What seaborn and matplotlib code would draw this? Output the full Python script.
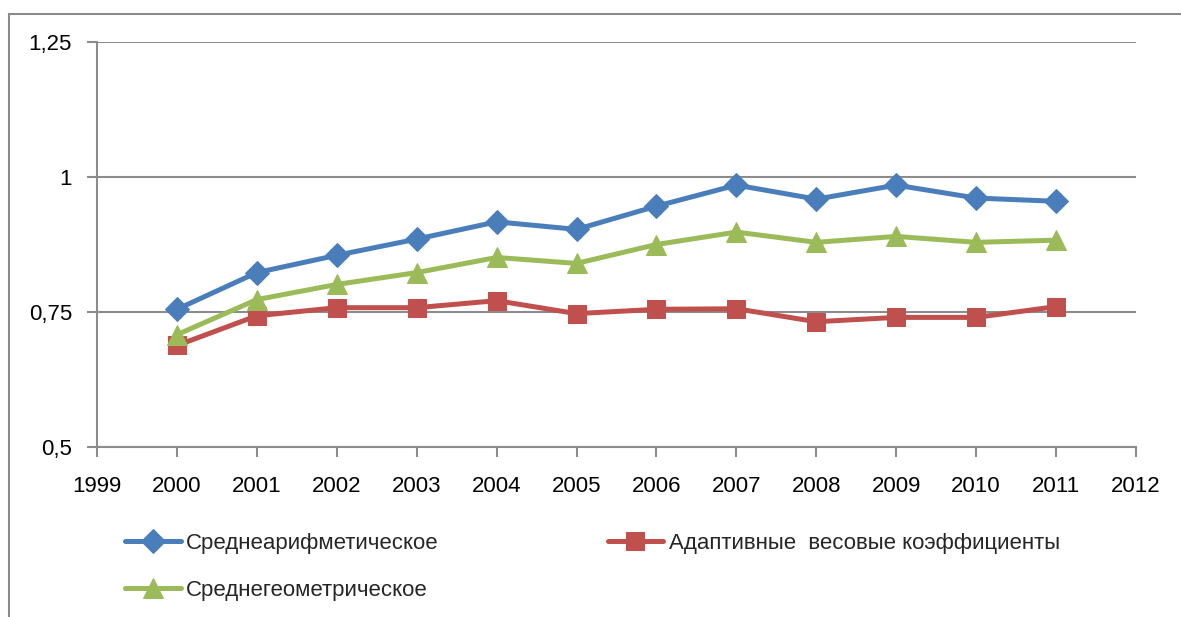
import seaborn as sns
import pandas as pd
import matplotlib.pyplot as plt
from matplotlib.patches import Rectangle

years = [2000, 2001, 2002, 2003, 2004, 2005, 2006, 2007, 2008, 2009, 2010, 2011]
arith = [0.755, 0.823, 0.855, 0.885, 0.917, 0.903, 0.946, 0.985, 0.959, 0.985, 0.961, 0.955]
adaptive = [0.688, 0.743, 0.758, 0.758, 0.771, 0.747, 0.755, 0.756, 0.732, 0.740, 0.740, 0.760]
geom = [0.708, 0.773, 0.801, 0.823, 0.851, 0.840, 0.875, 0.898, 0.879, 0.890, 0.879, 0.883]

names = ['Среднеарифметическое', 'Адаптивные  весовые коэффициенты', 'Среднегеометрическое']
colors = ['#4A7EBB', '#C0504D', '#9BBB59']
markers = ['D', 's', '^']
msizes = [12, 13, 15]

yticks = [0.5, 0.75, 1, 1.25]
ylabels = ['0,5', '0,75', '1', '1,25']

sns.set_style('white')
plt.rcParams['font.family'] = ['Liberation Sans', 'DejaVu Sans']

fig = plt.figure(figsize=(11.81, 6.17), dpi=100)
ax = fig.add_axes([97 / 1181, 1 - 447 / 617, 1039 / 1181, 405 / 617])

series = [arith, adaptive, geom]
lines = []
for vals, name, c, m, ms in zip(series, names, colors, markers, msizes):
    df = pd.DataFrame({'year': years, 'value': vals})
    sns.lineplot(data=df, x='year', y='value', ax=ax, color=c, linewidth=3.6,
                 marker=m, markersize=ms, markeredgecolor=c, label=name)
    lines.append(ax.get_lines()[-1])

ax.get_legend().remove()
ax.set_xlim(1999, 2012)
ax.set_ylim(0.5, 1.25)
ax.set_xticks(range(1999, 2013))
ax.set_yticks(yticks)
ax.set_yticklabels(ylabels)
ax.set_xlabel('')
ax.set_ylabel('')
ax.grid(axis='y', color='#8c8c8c', linewidth=1.5)
ax.set_axisbelow(True)
for s in ['top', 'right']:
    ax.spines[s].set_visible(False)
for s in ['left', 'bottom']:
    ax.spines[s].set_color('#8c8c8c')
    ax.spines[s].set_linewidth(1.5)
ax.tick_params(axis='both', which='major', direction='out', length=7, width=1.5,
               color='#8c8c8c', labelsize=16, labelcolor='black')
ax.tick_params(axis='x', bottom=True, pad=14)
ax.tick_params(axis='y', left=True, pad=11)

handles = [lines[0], lines[2], lines[1]]
labels = [names[0], names[2], names[1]]
fig.legend(handles, labels, loc='upper left', bbox_to_anchor=(125 / 1181, 1 - 533 / 617),
           ncol=2, frameon=False, fontsize=16, handlelength=2.5, handletextpad=0.25,
           columnspacing=7.6, labelspacing=1.15, borderpad=0, borderaxespad=0)

fig.patches.append(Rectangle((9 / 1181, -0.1), 1.2, 1 - 14 / 617 + 0.1, transform=fig.transFigure,
                             fill=False, edgecolor='#8c8c8c', linewidth=1.5))

fig.savefig('out.png', dpi=100)
